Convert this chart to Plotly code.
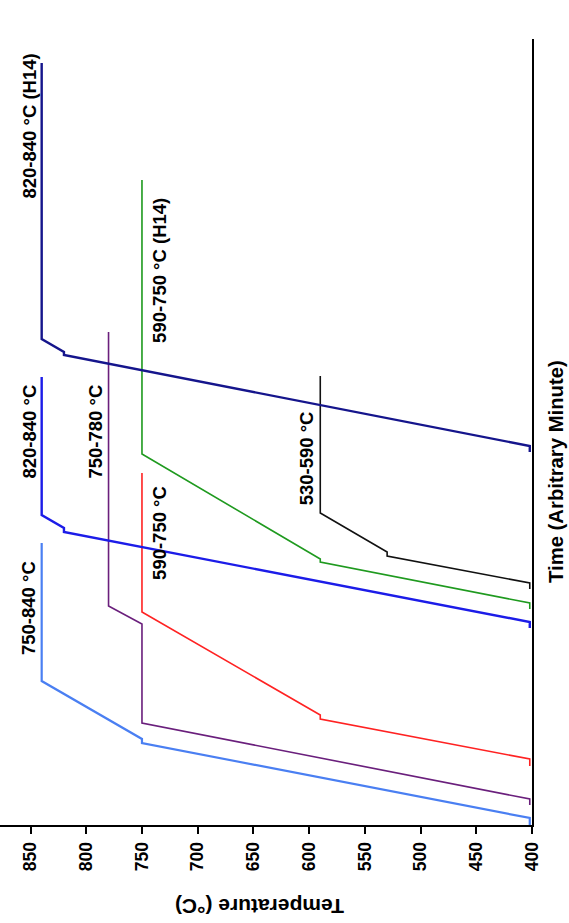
import plotly.graph_objects as go

# Temperature (°C) / time (arbitrary units) for each heat-treatment route
lightblue_T = [402, 402, 750, 750, 840, 840]
lightblue_t = [0.0, 0.7, 8.2, 8.6, 14.4, 28.2]

purple_T = [402, 402, 750, 750, 780, 780]
purple_t = [2.0, 2.6, 10.2, 20.1, 21.9, 49.3]

red_T = [402, 402, 590, 590, 750, 750]
red_t = [5.9, 6.6, 10.6, 11.0, 21.3, 35.2]

blue_T = [402, 402, 820, 820, 840, 840]
blue_t = [19.7, 20.3, 29.3, 29.7, 31.0, 44.8]

green_T = [402, 402, 590, 590, 750, 750]
green_t = [21.6, 22.2, 26.3, 26.6, 37.1, 64.5]

black_T = [402, 402, 530, 530, 590, 590]
black_t = [23.6, 24.2, 26.9, 27.3, 31.2, 44.9]

navy_T = [402, 402, 820, 820, 840, 840]
navy_t = [37.3, 37.9, 47.0, 47.3, 48.6, 76.2]

label_text = ["750-840 °C", "820-840 °C", "750-780 °C", "590-750 °C",
              "530-590 °C", "590-750 °C (H14)", "820-840 °C (H14)"]
label_T = [851.8, 851.8, 792.6, 734.8, 602.5, 734.8, 851.8]
label_t = [21.65, 39.3, 39.3, 29.2, 36.7, 55.5, 69.9]

temp_ticks = [850, 800, 750, 700, 650, 600, 550, 500, 450, 400]

FONT = "Liberation Sans Narrow, Arial Narrow, Liberation Sans, Arial, sans-serif"

series = [
    (lightblue_T, lightblue_t, "#4a7ff2", 2.2),
    (purple_T, purple_t, "#6a1f7c", 1.6),
    (red_T, red_t, "#ff2222", 1.6),
    (blue_T, blue_t, "#1c1ce8", 2.4),
    (green_T, green_t, "#1f9a1f", 1.6),
    (black_T, black_t, "#111111", 1.6),
    (navy_T, navy_t, "#15158c", 2.4),
]

fig = go.Figure()
for T, t, c, w in series:
    fig.add_trace(go.Scatter(x=T, y=t, mode="lines",
                             line=dict(color=c, width=w), showlegend=False,
                             hoverinfo="skip"))

for txt, T, t in zip(label_text, label_T, label_t):
    fig.add_annotation(x=T, y=t, xref="x", yref="y", text=txt, showarrow=False,
                       textangle=-90, xanchor="center", yanchor="middle",
                       font=dict(family=FONT, size=18.5, color="black", weight="bold"))

fig.add_annotation(x=260 / 532, y=(825 - 907) / 786, xref="paper", yref="paper",
                   text="Temperature (°C)", showarrow=False, textangle=180,
                   xanchor="center", yanchor="middle",
                   font=dict(family=FONT, size=21, color="black", weight="bold"))
fig.add_annotation(x=556 / 532, y=(825 - 472) / 786, xref="paper", yref="paper",
                   text="Time (Arbitrary Minute)", showarrow=False, textangle=-90,
                   xanchor="center", yanchor="middle",
                   font=dict(family=FONT, size=20.3, color="black", weight="bold"))

fig.update_layout(
    width=569, height=923,
    margin=dict(l=0, r=37, t=39, b=98),
    paper_bgcolor="white", plot_bgcolor="white",
    xaxis=dict(range=[877.4, 400], tickvals=temp_ticks,
               ticktext=[str(v) for v in temp_ticks],
               showline=True, linecolor="black", linewidth=2,
               ticks="outside", ticklen=7, tickwidth=2, tickcolor="black",
               tickangle=-90, showgrid=False, zeroline=False,
               ticklabelstandoff=1,
               tickfont=dict(family=FONT, size=17.5, color="black", weight="bold")),
    yaxis=dict(range=[0, 78.6], side="right", showline=True, linecolor="black",
               linewidth=2, showticklabels=False, ticks="", showgrid=False,
               zeroline=False),
)

fig.write_html("out.html")
